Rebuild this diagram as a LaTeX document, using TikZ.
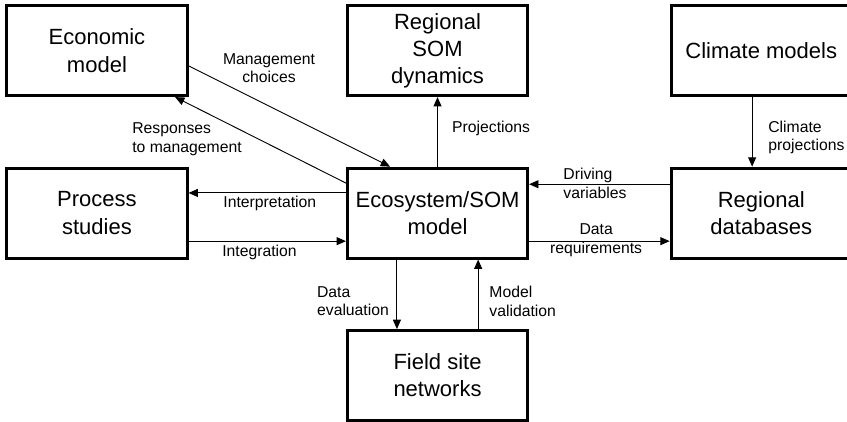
\documentclass[tikz,border=0pt]{standalone}
\usepackage{fontspec}
\setmainfont{Liberation Sans}
\usetikzlibrary{arrows.meta}

\begin{document}
\begin{tikzpicture}[
                node distance=4.28cm,
                auto,
                block/.style={
                    rectangle,
                    draw,
                    line width=2.2pt,
                    align=center,
                    minimum width=4.75cm,
                    minimum height=2.37cm,
                    font=\fontsize{16.5}{20.3}\selectfont
                },
                line/.style={
                    draw,
                    line width=0.7pt,
                    -{Triangle[length=7pt,width=6pt]}
                },
                lbl/.style={
                    align=left,
                    inner sep=0pt,
                    font=\fontsize{11.8}{14}\selectfont
                }]

                \useasboundingbox (-11.53,-5.48) rectangle (10.79,5.615);

                \node [block] (ecosystem) at (0,0) {Ecosystem/SOM\\model};
                \node [block, above of=ecosystem] (som) {Regional\\SOM\\dynamics};
                \node [block, below of=ecosystem] (field) {Field site\\networks};

                \node [block, left of=ecosystem, node distance=8.975cm] (process) {Process\\studies};
                \node [block, above of=process] (economic) {Economic\\model};

                \node [block, right of=ecosystem, node distance=8.53cm] (databases) {Regional\\databases};
                \node [block, above of=databases] (climate) {Climate models};

                \draw [line] ([yshift=-0.4cm]economic.east) -- ([xshift=-1.25cm]ecosystem.north);
                \draw [line] ([yshift=0.79cm]ecosystem.west) -- ([xshift=2.06cm]economic.south);

                \draw [line] ([yshift=0.53cm]ecosystem.west) -- ([yshift=0.53cm]process.east);
                \draw [line] ([yshift=-0.74cm]process.east) -- ([yshift=-0.74cm]ecosystem.west);

                \draw [line] (ecosystem) -- (som);
                \draw [line] ([xshift=-0.24cm]climate.south) -- ([xshift=-0.24cm]databases.north);

                \draw [line] ([yshift=0.76cm]databases.west) -- ([yshift=0.76cm]ecosystem.east);
                \draw [line] ([yshift=-0.74cm]ecosystem.east) -- ([yshift=-0.74cm]databases.west);

                \draw [line] ([xshift=-1.07cm]ecosystem.south) -- ([xshift=-1.07cm]field.north);
                \draw [line] ([xshift=1.07cm]field.north) -- ([xshift=1.07cm]ecosystem.south);

                \node [lbl, align=center] (choices) at (-4.44,3.82) {Management\\choices};
                \node [lbl, anchor=west] (responses) at (-8.05,1.95) {Responses\\to management};
                \node [lbl, anchor=west] (interpretation) at (-5.65,0.26) {Interpretation};
                \node [lbl, anchor=west] (integration) at (-5.68,-1.03) {Integration};
                \node [lbl, anchor=west] (projections) at (0.38,2.24) {Projections};
                \node [lbl, anchor=west] (climproj) at (8.71,1.99) {Climate\\projections};
                \node [lbl, anchor=west] (driving) at (3.31,0.79) {Driving\\variables};
                \node [lbl, align=center] (requirements) at (4.18,-0.72) {Data\\requirements};
                \node [lbl, anchor=west] (evaluation) at (-3.18,-2.32) {Data\\evaluation};
                \node [lbl, anchor=west] (validation) at (1.36,-2.32) {Model\\validation};

            \end{tikzpicture}
\end{document}
